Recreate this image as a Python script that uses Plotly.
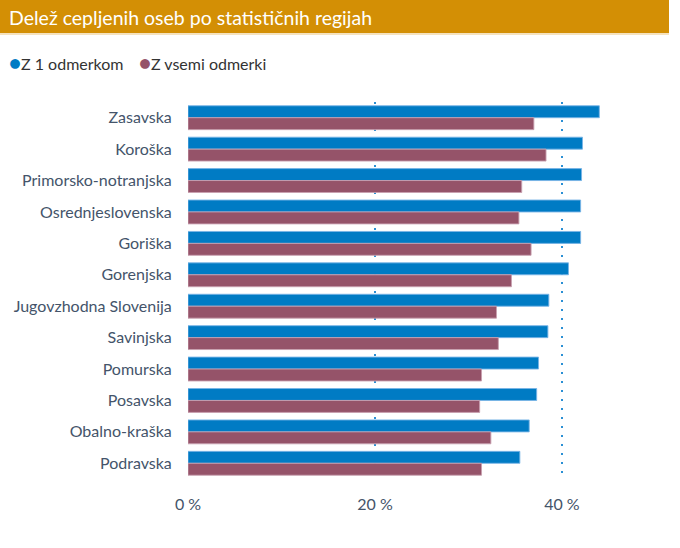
import plotly.graph_objects as go

regions = ["Zasavska", "Koroška", "Primorsko-notranjska", "Osrednjeslovenska", "Goriška",
           "Gorenjska", "Jugovzhodna Slovenija", "Savinjska", "Pomurska", "Posavska",
           "Obalno-kraška", "Podravska"]
one_dose = [44.0, 42.2, 42.1, 42.0, 42.0, 40.7, 38.6, 38.5, 37.5, 37.3, 36.5, 35.5]
all_doses = [37.0, 38.3, 35.7, 35.4, 36.7, 34.6, 33.0, 33.2, 31.4, 31.2, 32.4, 31.4]
series_names = ["Z 1 odmerkom", "Z vsemi odmerki"]
tick_vals = [0, 20, 40]
tick_text = ["0 %", "20 %", "40 %"]
title_text = "Delež cepljenih oseb po statističnih regijah"

BLUE = "#007BC4"
PURPLE = "#955369"
FONT = "Lato, Open Sans, sans-serif"

W, H = 680, 548
mt, mb, ml, mr = 102, 69, 188, 62
ph = H - mt - mb
pw = W - ml - mr

def py(ypix):
    return 1 + (mt - ypix) / ph

def px(xpix):
    return (xpix - ml) / pw

fig = go.Figure()
fig.add_trace(go.Bar(y=regions, x=one_dose, name=series_names[0], orientation="h",
                     marker=dict(color=BLUE, line=dict(color="rgba(120,180,230,0.9)", width=1)),
                     showlegend=False))
fig.add_trace(go.Bar(y=regions, x=all_doses, name=series_names[1], orientation="h",
                     marker=dict(color=PURPLE, line=dict(color="rgba(200,160,175,0.9)", width=1)),
                     showlegend=False))

fig.update_layout(
    width=W, height=H,
    margin=dict(t=mt, b=mb, l=ml, r=mr, autoexpand=False),
    paper_bgcolor="white", plot_bgcolor="white",
    barmode="group", bargap=0.24, bargroupgap=0,
    font=dict(family=FONT, color="#44546A", size=16),
    xaxis=dict(range=[0, 46], tickvals=tick_vals, ticktext=tick_text, automargin=False,
               showgrid=True, gridcolor="#2A8FD4", griddash="2px,7px", gridwidth=2,
               zeroline=False, showline=False,
               ticks="outside", ticklen=11, tickcolor="rgba(0,0,0,0)",
               tickfont=dict(size=16, color="#44546A", family=FONT)),
    yaxis=dict(categoryorder="array", categoryarray=regions, autorange="reversed",
               automargin=False,
               showgrid=False, zeroline=False, showline=False,
               ticks="outside", ticklen=12, tickcolor="rgba(0,0,0,0)",
               tickfont=dict(size=16, color="#44546A", family=FONT)),
    shapes=[
        dict(type="rect", xref="paper", yref="paper",
             x0=px(0), x1=px(669), y0=py(33), y1=py(0),
             fillcolor="#D38F05", line=dict(width=0), layer="above"),
        dict(type="line", xref="paper", yref="paper",
             x0=px(0), x1=px(669), y0=py(34), y1=py(34),
             line=dict(color="#F2D9A8", width=1.5)),
    ],
    annotations=[
        dict(text=title_text, xref="paper", yref="paper",
             x=px(7), y=py(17), xanchor="left", yanchor="middle",
             showarrow=False, font=dict(size=19.5, color="white", family=FONT)),
        dict(text=f"<span style='color:{BLUE};font-size:20px'>●</span>{series_names[0]}",
             xref="paper", yref="paper",
             x=px(7), y=py(62), xanchor="left", yanchor="middle",
             showarrow=False, font=dict(size=16, color="#333333", family=FONT)),
        dict(text=f"<span style='color:{PURPLE};font-size:20px'>●</span>{series_names[1]}",
             xref="paper", yref="paper",
             x=px(137), y=py(62), xanchor="left", yanchor="middle",
             showarrow=False, font=dict(size=16, color="#333333", family=FONT)),
    ],
)

fig.write_html("out.html", config={"displayModeBar": False},
               post_script="document.body.style.margin='0';")
